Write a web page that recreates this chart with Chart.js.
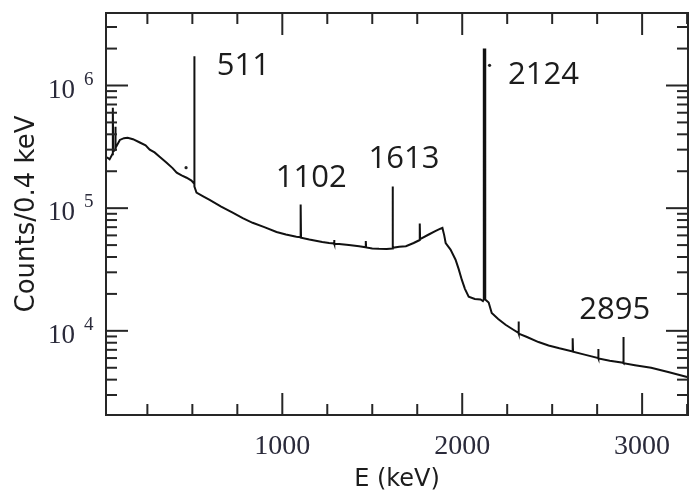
<!DOCTYPE html>
<html>
<head>
<meta charset="utf-8">
<script src="https://cdn.jsdelivr.net/npm/chart.js@4.4.1/dist/chart.umd.min.js"></script>
<style>
  html, body { margin: 0; padding: 0; background: #fff; overflow: hidden; }
  #wrap { width: 692px; height: 494px; }
</style>
</head>
<body>
<div id="wrap"><canvas id="spectrum" width="692" height="494"></canvas></div>
<script>
// spectrum (keV, counts per 0.4 keV); peaks are drawn as base-top-base
const energy = [
  25, 40, 55, 58, 58, 60, 72, 72, 74, 97, 120, 140, 170, 208, 240, 263, 290, 318, 357, 390,
  413, 440, 468, 495, 508, 511, 511, 512, 523, 560, 596, 660, 724, 780, 835, 900, 968, 1020,
  1078, 1100, 1102, 1102, 1104, 1150, 1222, 1260, 1288, 1288, 1290, 1316, 1370, 1427, 1464,
  1464, 1466, 1500, 1537, 1580, 1613, 1613, 1615, 1650, 1687, 1730, 1764, 1764, 1766, 1814,
  1850, 1879, 1890, 1900, 1908, 1935, 1963, 1980, 1998, 2015, 2036, 2070, 2102, 2115, 2120,
  2120, 2128, 2128, 2147, 2164, 2200, 2241, 2280, 2313, 2313, 2315, 2360, 2424, 2480, 2540,
  2614, 2614, 2616, 2680, 2756, 2756, 2758, 2820, 2894, 2894, 2898, 2898, 2960, 3050, 3150, 3250
];
const counts = [
  2.6e5, 2.5e5, 2.75e5, 2.8e5, 6.6e5, 2.9e5, 3.0e5, 4.6e5, 3.1e5, 3.6e5, 3.72e5, 3.75e5, 3.65e5, 3.43e5, 3.25e5, 3.0e5, 2.85e5, 2.63e5, 2.35e5, 2.12e5,
  1.95e5, 1.85e5, 1.77e5, 1.68e5, 1.6e5, 1.6e5, 1.73e6, 1.5e5, 1.34e5, 1.25e5, 1.17e5, 1.03e5, 9.2e4, 8.3e4, 7.6e4, 7.0e4, 6.4e4, 6.1e4,
  5.85e4, 5.8e4, 5.8e4, 1.07e5, 5.75e4, 5.55e4, 5.3e4, 5.2e4, 5.15e4, 5.5e4, 5.1e4, 5.1e4, 5.0e4, 4.9e4, 4.8e4,
  5.4e4, 4.78e4, 4.7e4, 4.66e4, 4.65e4, 4.7e4, 1.5e5, 4.75e4, 4.85e4, 4.9e4, 5.2e4, 5.5e4, 7.5e4, 5.6e4, 6.1e4,
  6.5e4, 6.8e4, 6.9e4, 6.0e4, 5.2e4, 4.6e4, 3.8e4, 3.2e4, 2.6e4, 2.2e4, 1.9e4, 1.82e4, 1.8e4, 1.75e4, 1.8e4,
  1.97e6, 1.97e6, 1.8e4, 1.7e4, 1.4e4, 1.25e4, 1.12e4, 1.03e4, 9.6e3, 1.19e4, 9.5e3, 8.9e3, 8.1e3, 7.6e3, 7.2e3,
  6.8e3, 8.7e3, 6.75e3, 6.4e3, 6.0e3, 7.1e3, 5.95e3, 5.7e3, 5.5e3, 8.9e3, 8.9e3, 5.45e3, 5.25e3, 5.0e3, 4.6e3, 4.2e3
];

// small dots next to the 511 and 2124 lines
const markerE = [465, 2152];
const markerCounts = [2.14e5, 1.46e6];

// peak labels and where they sit (keV, counts)
const peakNames = ['511', '1102', '1613', '2124', '2895'];
const peakLabelE = [784, 1161, 1676, 2452, 2848];
const peakLabelCounts = [1.43e6, 1.74e5, 2.49e5, 1.21e6, 1.48e4];

const xLabelled = [1000, 2000, 3000];
const yDecades = [1e4, 1e5, 1e6];

const ink = '#1c1c1c';

const framePlugin = {
  id: 'frame',
  afterDatasetsDraw(chart) {
    const { ctx, chartArea: a, scales: { x, y } } = chart;
    ctx.save();
    ctx.strokeStyle = '#262626';
    ctx.lineWidth = 2;
    ctx.strokeRect(a.left, a.top, a.right - a.left, a.bottom - a.top);

    const seg = (x1, y1, x2, y2) => {
      ctx.beginPath(); ctx.moveTo(x1, y1); ctx.lineTo(x2, y2); ctx.stroke();
    };

    // inward ticks on bottom and top
    for (let v = 250; v <= x.max; v += 250) {
      const px = x.getPixelForValue(v);
      const len = v % 1000 === 0 ? 22 : 11;
      seg(px, a.bottom, px, a.bottom - len);
      seg(px, a.top, px, a.top + len);
    }
    // inward ticks on left and right
    for (let d = 1e3; d <= 1e7; d *= 10) {
      for (let m = 1; m <= 9; m++) {
        const v = d * m;
        if (v < y.min || v > y.max) continue;
        const py = y.getPixelForValue(v);
        const len = m === 1 ? 22 : 11;
        seg(a.left, py, a.left + len, py);
        seg(a.right, py, a.right - len, py);
      }
    }

    // decade labels 10^n
    ctx.fillStyle = '#2a2a3a';
    ctx.textBaseline = 'alphabetic';
    yDecades.forEach(v => {
      const py = y.getPixelForValue(v);
      ctx.textAlign = 'left';
      ctx.font = '27px "Liberation Serif"';
      ctx.fillText('10', 48, py + 12);
      ctx.font = '19px "Liberation Serif"';
      ctx.fillText(String(Math.round(Math.log10(v))), 84, py - 1);
    });

    // peak energies
    ctx.fillStyle = ink;
    ctx.font = '31px "Open Sans"';
    ctx.textAlign = 'center';
    ctx.textBaseline = 'middle';
    peakNames.forEach((name, i) => {
      ctx.fillText(name, x.getPixelForValue(peakLabelE[i]), y.getPixelForValue(peakLabelCounts[i]));
    });
    ctx.restore();
  }
};

new Chart(document.getElementById('spectrum'), {
  type: 'line',
  data: {
    datasets: [{
      data: energy.map((e, i) => ({ x: e, y: counts[i] })),
      borderColor: '#111',
      borderWidth: 2,
      pointRadius: 0,
      tension: 0,
      fill: false
    }, {
      data: markerE.map((e, i) => ({ x: e, y: markerCounts[i] })),
      showLine: false,
      pointRadius: 1.6,
      pointBackgroundColor: '#222',
      pointBorderWidth: 0
    }]
  },
  options: {
    responsive: false,
    animation: false,
    layout: { padding: { top: 13, right: 2, left: 0, bottom: 0 } },
    plugins: { legend: { display: false }, tooltip: { enabled: false } },
    scales: {
      x: {
        type: 'linear',
        min: 20,
        max: 3255,
        grid: { display: false },
        border: { display: false },
        afterBuildTicks: scale => { scale.ticks = xLabelled.map(v => ({ value: v })); },
        afterFit: scale => { scale.height = 79; },
        ticks: {
          padding: 7,
          color: '#2a2a3a',
          font: { family: 'Liberation Serif', size: 28 },
          callback: v => String(v)
        },
        title: {
          display: true,
          text: 'E (keV)',
          color: ink,
          padding: { top: 0, bottom: 0 },
          font: { family: 'DejaVu Sans', size: 24 }
        }
      },
      y: {
        type: 'logarithmic',
        min: 2060,
        max: 3.9e6,
        grid: { display: false },
        border: { display: false },
        ticks: { display: false },
        afterFit: scale => { scale.width = 106; },
        title: {
          display: true,
          text: 'Counts/0.4 keV',
          color: ink,
          padding: { top: 12, bottom: 0 },
          font: { family: 'DejaVu Sans', size: 26 }
        }
      }
    }
  },
  plugins: [framePlugin]
});
</script>
</body>
</html>
